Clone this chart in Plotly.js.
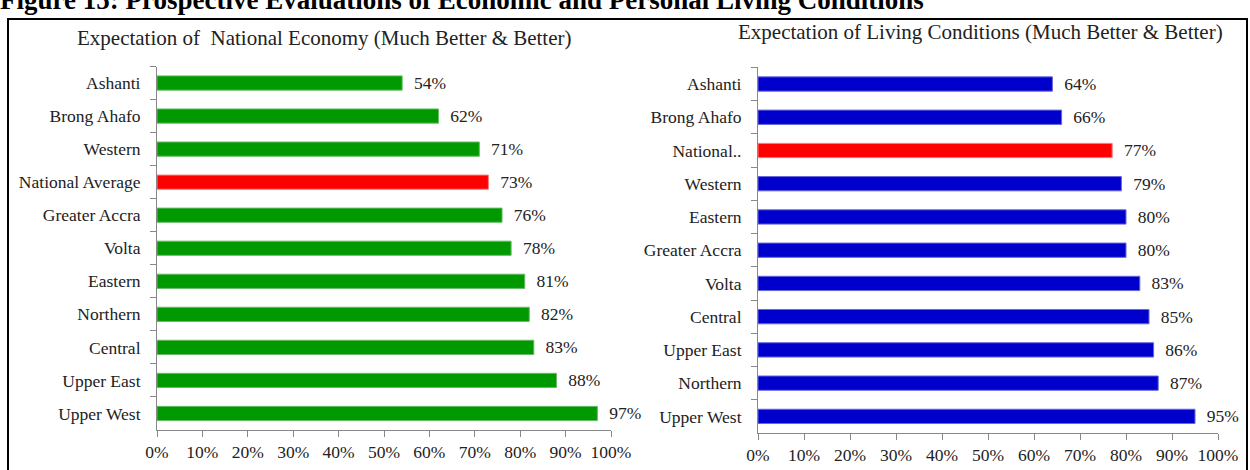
<!DOCTYPE html>
<html>
<head>
<meta charset="utf-8">
<script src="https://cdn.plot.ly/plotly-3.0.1.min.js"></script>
<style>
html,body{margin:0;padding:0;background:#fff;}
#chart{width:1250px;height:470px;}
</style>
</head>
<body>
<div id="chart"></div>
<script>
// Left panel: Expectation of National Economy
const econRegions = ["Ashanti","Brong Ahafo","Western","National Average","Greater Accra","Volta","Eastern","Northern","Central","Upper East","Upper West"];
const econValues  = [54,62,71,73,76,78,81,82,83,88,97];
const econColors  = ["#009900","#009900","#009900","#ff0000","#009900","#009900","#009900","#009900","#009900","#009900","#009900"];

// Right panel: Expectation of Living Conditions
const livRegions = ["Ashanti","Brong Ahafo","National..","Western","Eastern","Greater Accra","Volta","Central","Upper East","Northern","Upper West"];
const livValues  = [64,66,77,79,80,80,83,85,86,87,95];
const livColors  = ["#0000cc","#0000cc","#ff0000","#0000cc","#0000cc","#0000cc","#0000cc","#0000cc","#0000cc","#0000cc","#0000cc"];

const xTickVals = [0,10,20,30,40,50,60,70,80,90,100];
const xTickText = ["0%","10%","20%","30%","40%","50%","60%","70%","80%","90%","100%"];

const figTitle = "Figure 15: Prospective Evaluations of Economic and Personal Living Conditions";
const leftTitle = "Expectation of  National Economy (Much Better &amp; Better)";
const rightTitle = "Expectation of Living Conditions (Much Better &amp; Better)";

const W = 1250, H = 470;
const px = v => v / W;
const py = v => 1 - v / H;

const font = "Liberation Serif, Times New Roman, serif";

function barTrace(regions, values, colors, xa, ya, lineColors) {
  return {
    type: "bar",
    orientation: "h",
    y: regions,
    x: values,
    xaxis: xa,
    yaxis: ya,
    marker: {color: colors, line: {color: lineColors, width: 1}},
    text: values.map(v => "\u00a0\u00a0" + v + "%"),
    textposition: "outside",
    constraintext: "none",
    textfont: {family: font, size: 17.5, color: "#222"},
    cliponaxis: false,
    hoverinfo: "skip",
    showlegend: false
  };
}

const econLine = econColors.map(c => c === "#ff0000" ? "#ff8080" : "#66bb66");
const livLine = livColors.map(c => c === "#ff0000" ? "#ff8080" : "#6666dd");

const data = [
  barTrace(econRegions, econValues, econColors, "x", "y", econLine),
  barTrace(livRegions, livValues, livColors, "x2", "y2", livLine)
];

const xaxisBase = {
  range: [0, 100],
  tickmode: "array",
  tickvals: xTickVals,
  ticktext: xTickText,
  ticks: "outside",
  ticklen: 6,
  tickcolor: "#888",
  showline: true,
  linecolor: "#888",
  linewidth: 1,
  showgrid: false,
  zeroline: false,
  tickfont: {family: font, size: 17.5, color: "#222"},
  fixedrange: true
};
const yaxisBase = {
  type: "category",
  autorange: "reversed",
  ticks: "outside",
  tickson: "boundaries",
  ticklen: 6,
  tickcolor: "#888",
  showline: true,
  linecolor: "#888",
  linewidth: 1,
  showgrid: false,
  zeroline: false,
  ticklabelstandoff: 12,
  tickfont: {family: font, size: 17.5, color: "#222"},
  fixedrange: true
};

const layout = {
  width: W,
  height: H,
  margin: {l: 0, r: 0, t: 0, b: 0},
  paper_bgcolor: "#fff",
  plot_bgcolor: "rgba(0,0,0,0)",
  bargap: 0.57,
  title: {
    text: "<b>" + figTitle + "</b>",
    font: {family: font, size: 27, color: "#000"},
    x: 0, xref: "container", xanchor: "left",
    y: 1.0, yref: "container", yanchor: "middle"
  },
  xaxis: Object.assign({}, xaxisBase, {domain: [px(157), px(611)], anchor: "y"}),
  yaxis: Object.assign({}, yaxisBase, {domain: [py(430), py(66.5)], anchor: "x"}),
  xaxis2: Object.assign({}, xaxisBase, {domain: [px(758), px(1218)], anchor: "y2"}),
  yaxis2: Object.assign({}, yaxisBase, {domain: [py(433), py(67.4)], anchor: "x2"}),
  annotations: [
    {text: leftTitle, xref: "paper", yref: "paper", x: px(324), y: py(38),
     xanchor: "center", yanchor: "middle", showarrow: false,
     font: {family: font, size: 21, color: "#222"}},
    {text: rightTitle, xref: "paper", yref: "paper", x: px(980), y: py(32),
     xanchor: "center", yanchor: "middle", showarrow: false,
     font: {family: font, size: 21, color: "#222"}}
  ],
  shapes: [
    {type: "rect", xref: "paper", yref: "paper",
     x0: px(8), x1: px(1247), y0: py(520), y1: py(19),
     line: {color: "#000", width: 2}, fillcolor: "rgba(0,0,0,0)", layer: "below"}
  ]
};

Plotly.newPlot("chart", data, layout, {displayModeBar: false, staticPlot: true});
</script>
</body>
</html>
